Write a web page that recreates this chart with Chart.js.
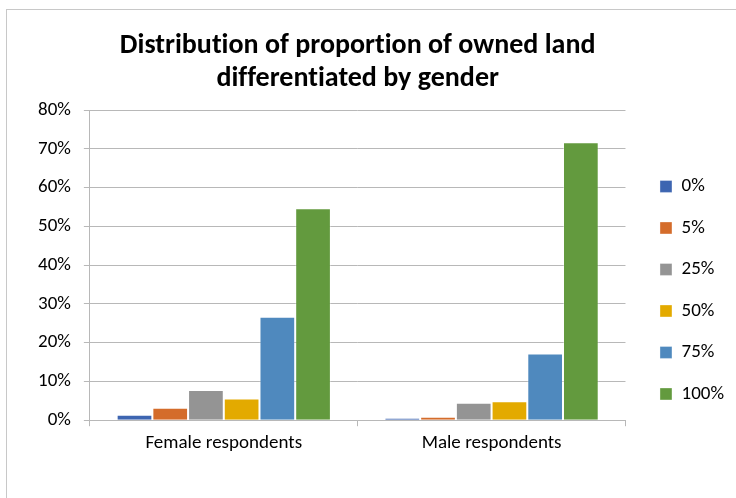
<!DOCTYPE html>
<html lang="en">
<head>
    <meta charset="UTF-8">
    <title>Owned land by gender</title>
    <script src="https://cdn.jsdelivr.net/npm/chart.js"></script>
    <style>
        body { margin: 0; background: #fff; overflow: hidden; }
        .frame { position: absolute; left: 6px; top: 9px; width: 740px; height: 500px; border: 1px solid #c8c8c8; }
        .box { position: absolute; left: 0; top: 0; width: 736px; height: 498px; }
    </style>
</head>
<body>
    <div class="frame"></div>
    <div class="box"><canvas id="landChart"></canvas></div>

    <script>
        const groups = ['Female respondents', 'Male respondents'];
        const shares = ['0%', '5%', '25%', '50%', '75%', '100%'];
        // percent of respondents per owned-land share, [female, male]
        const share0 = [1.4, 0.6];
        const share5 = [3.2, 0.9];
        const share25 = [7.8, 4.5];
        const share50 = [5.6, 4.9];
        const share75 = [26.7, 17.2];
        const share100 = [54.7, 71.7];
        const yTicks = [0, 10, 20, 30, 40, 50, 60, 70, 80];

        const seriesValues = [share0, share5, share25, share50, share75, share100];
        const colors = ['#3d65b1', '#d46c2b', '#949494', '#e3aa00', '#4f89be', '#639a3e'];

        const font = 'Carlito, Calibri, "Open Sans", sans-serif';
        const gridGray = '#b8b8b8';

        // tiny letter spacing keeps "ti"/"ff" from turning into ligatures
        const noLigatures = {
            id: 'noLigatures',
            beforeUpdate(chart) {
                chart.ctx.letterSpacing = '0.01px';
            },
            beforeDraw(chart) {
                chart.ctx.letterSpacing = '0.01px';
            }
        };

        const ctx = document.getElementById('landChart').getContext('2d');
        new Chart(ctx, {
            type: 'bar',
            plugins: [noLigatures],
            data: {
                labels: groups,
                datasets: shares.map((s, i) => ({
                    label: s,
                    data: seriesValues[i],
                    backgroundColor: colors[i],
                    borderColor: 'rgba(255,255,255,0.35)',
                    borderWidth: 1,
                    categoryPercentage: 0.8,
                    barPercentage: 1.0
                }))
            },
            options: {
                responsive: true,
                maintainAspectRatio: false,
                animation: false,
                layout: { padding: { left: 25, right: 2, top: 10, bottom: 37 } },
                plugins: {
                    title: {
                        display: true,
                        fullSize: false,
                        text: ['Distribution of proportion of owned land', 'differentiated by gender'],
                        color: '#000',
                        font: { family: font, size: 28, weight: 'bold', lineHeight: 1.2 },
                        padding: { top: 19, bottom: 14 }
                    },
                    legend: {
                        position: 'right',
                        title: { display: true, text: '', padding: { top: 47, bottom: 48 } },
                        labels: {
                            color: '#000',
                            font: { family: font, size: 19 },
                            boxWidth: 12,
                            boxHeight: 12,
                            padding: 22.5
                        }
                    },
                    tooltip: { enabled: false }
                },
                scales: {
                    x: {
                        grid: {
                            drawOnChartArea: false,
                            drawTicks: true,
                            tickLength: 6,
                            color: gridGray
                        },
                        border: { color: gridGray },
                        ticks: { color: '#000', font: { family: font, size: 19 }, padding: 6 }
                    },
                    y: {
                        min: 0,
                        max: 80,
                        afterBuildTicks: axis => { axis.ticks = yTicks.map(v => ({ value: v })); },
                        grid: { color: gridGray, tickLength: 6 },
                        border: { color: gridGray },
                        ticks: {
                            color: '#000',
                            font: { family: font, size: 19 },
                            padding: 13,
                            callback: v => v + '%'
                        }
                    },
                    // empty strip between plot and legend
                    gap: {
                        type: 'linear',
                        position: 'right',
                        grid: { display: false },
                        border: { display: false },
                        ticks: { display: false },
                        afterFit: s => { s.width = 12; }
                    }
                }
            }
        });
    </script>
</body>
</html>
